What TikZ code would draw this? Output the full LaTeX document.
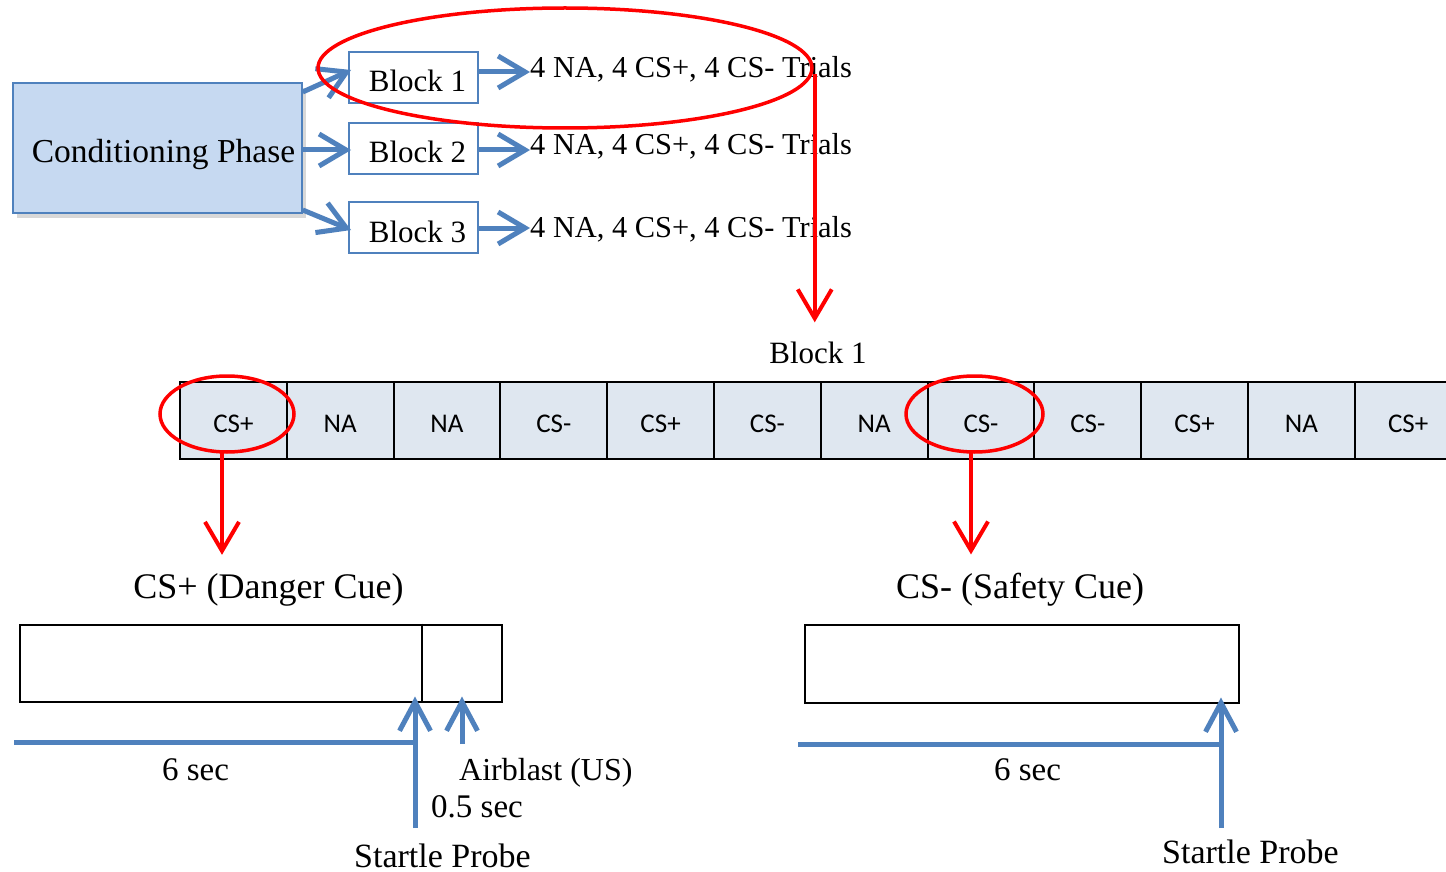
\documentclass[tikz,border=0pt]{standalone}
\usepackage{fontspec}
\setmainfont{Liberation Serif}
\newfontfamily\cellfont{Carlito}
\usetikzlibrary{arrows.meta,shapes.geometric,shadows}
\definecolor{accblue}{HTML}{4F81BD}
\definecolor{cpfill}{HTML}{C6D9F1}
\definecolor{cellfill}{HTML}{DFE7F0}
\definecolor{redline}{HTML}{FF0000}
\newcommand\myfs[1]{\fontsize{#1pt}{#1pt}\selectfont}
\newcommand\lowered[2]{\raisebox{-#1pt}[0pt][0pt]{#2}}
\begin{document}
\begin{tikzpicture}[x=1pt,y=-1pt,
  txt/.style={inner sep=0pt, anchor=base},
  bluearrow/.style={draw=accblue, line width=5pt, -{Straight Barb[length=27pt,width=32pt]}},
  tlarrow/.style={draw=accblue, line width=5pt, -{Straight Barb[length=29pt,width=31pt]}},
  blueline/.style={draw=accblue, line width=5pt},
  redarrow/.style={draw=redline, line width=4pt, -{Straight Barb[length=29pt,width=34pt]}},
  redell/.style={ellipse, draw=redline, line width=3.5pt, inner sep=0pt},
  blockbox/.style={draw=accblue, fill=white, line width=2pt, minimum width=129pt, minimum height=51pt, inner sep=0pt, font=\myfs{31}},
  cell/.style={draw=black, fill=cellfill, line width=2pt, minimum width=106.8pt, minimum height=77pt, inner sep=0pt, font=\cellfont\myfs{27}},
  plainbox/.style={draw=black, line width=2pt, inner sep=0pt},
]
\useasboundingbox (0,0) rectangle (1446,872);
\fill[white] (0,0) rectangle (1446,872);

% Conditioning phase
\node[draw=accblue, fill=cpfill, line width=1.5pt, minimum width=289pt, minimum height=130pt,
      inner sep=0pt, font=\myfs{33.5},
      drop shadow={opacity=0.3, shadow xshift=4pt, shadow yshift=-5pt}] (cp) at (157.5,148) {\hspace{12pt}\lowered{15}{Conditioning Phase}};

% Blocks
\node[blockbox] (b1) at (413.5,77.5) {\hspace{8pt}\lowered{14.5}{Block 1}};
\node[blockbox] (b2) at (413.5,149) {\hspace{8pt}\lowered{14}{Block 2}};
\node[blockbox] (b3) at (413.5,227) {\hspace{8pt}\lowered{15}{Block 3}};

% Trial texts
\node[txt, anchor=base west, font=\myfs{30.4}] (t1) at (530,78) {4 NA, 4 CS+, 4 CS- Trials};
\node[txt, anchor=base west, font=\myfs{30.4}] (t2) at (530,155) {4 NA, 4 CS+, 4 CS- Trials};
\node[txt, anchor=base west, font=\myfs{30.4}] (t3) at (530,237) {4 NA, 4 CS+, 4 CS- Trials};

% arrows CP -> blocks
\draw[bluearrow] ([yshift=56pt]cp.east) -- ([yshift=7.5pt,xshift=3pt]b1.west);
\draw[bluearrow] ([yshift=-2pt]cp.east) -- ([xshift=3pt,yshift=-1pt]b2.west);
\draw[bluearrow] ([yshift=-62pt]cp.east) -- ([xshift=3pt,yshift=-3pt]b3.west);

% arrows blocks -> texts
\draw[bluearrow] (b1.east |- 0,72) -- (t1.west |- 0,72);
\draw[bluearrow] (b2.east |- 0,150) -- (t2.west |- 0,150);
\draw[bluearrow] (b3.east |- 0,228) -- (t3.west |- 0,228);

% Red ellipse around block 1 row
\node[redell, minimum width=494pt, minimum height=120pt] (e1) at (565,68) {};

% Block 1 label
\node[txt, font=\myfs{31}] (blk) at (818,363) {Block 1};
\draw[redarrow] ([xshift=1pt,yshift=-6pt]e1.east) -- ([xshift=1pt]e1.east |- blk.north) [shorten >=19pt];

% cells
\foreach \i/\l in {1/CS+,2/NA,3/NA,4/CS-,5/CS+,6/CS-,7/NA,8/CS-,9/CS-,10/CS+,11/NA,12/CS+}
  \node[cell] (c\i) at ({180+106.8*(\i-0.5)},420.5) {\lowered{11.5}{\l}};

% red ellipses around cells
\node[redell, minimum width=134pt, minimum height=76pt] (e2) at (227,414) {};
\node[redell, minimum width=137pt, minimum height=76pt] (e3) at (974.5,414) {};

% titles
\node[txt, font=\myfs{36}] (dt) at (268.5,598) {CS+ (Danger Cue)};
\node[txt, font=\myfs{36}] (st) at (1020,598) {CS- (Safety Cue)};

\draw[redarrow, shorten >=18pt] ([xshift=-5pt,yshift=1pt]e2.south) -- ([xshift=-5pt]e2.south |- dt.north);
\draw[redarrow, shorten >=18pt] ([xshift=-3.5pt,yshift=1pt]e3.south) -- ([xshift=-3.5pt]e3.south |- st.north);

% timeline boxes
\node[plainbox, minimum width=482pt, minimum height=77pt] (dbox) at (261,663) {};
\draw[line width=2pt] ([xshift=161pt]dbox.north) -- ([xshift=161pt]dbox.south);
\node[plainbox, minimum width=434pt, minimum height=78pt] (sbox) at (1021.5,663.5) {};

% left timeline
\coordinate (hl0) at (14,742);
\coordinate (sp0) at (415,828);
\coordinate (ab0) at (462,744);
\draw[blueline] (hl0) -- (hl0 -| sp0);
\draw[tlarrow, shorten >=-6pt] (sp0) -- (sp0 |- dbox.south);
\draw[tlarrow, shorten >=-6pt] (ab0) -- (ab0 |- dbox.south);

\node[txt, font=\myfs{33}] (l6) at (195.5,780) {6 sec};
\node[txt, anchor=base west, font=\myfs{32}] (lab) at (459,780) {Airblast (US)};
\node[txt, anchor=base west, font=\myfs{33}] (l05) at (431,817) {0.5 sec};
\node[txt, anchor=base west, font=\myfs{34}] (lsp) at (354,867) {Startle Probe};

% right timeline
\coordinate (hl1) at (798,744);
\coordinate (sp1) at (1221,828);
\draw[blueline] (hl1) -- (hl1 -| sp1);
\draw[tlarrow, shorten >=-6pt] (sp1) -- (sp1 |- sbox.south);
\node[txt, font=\myfs{33}] (r6) at (1027.5,780) {6 sec};
\node[txt, anchor=base west, font=\myfs{34}] (rsp) at (1162,863) {Startle Probe};
\end{tikzpicture}
\end{document}
